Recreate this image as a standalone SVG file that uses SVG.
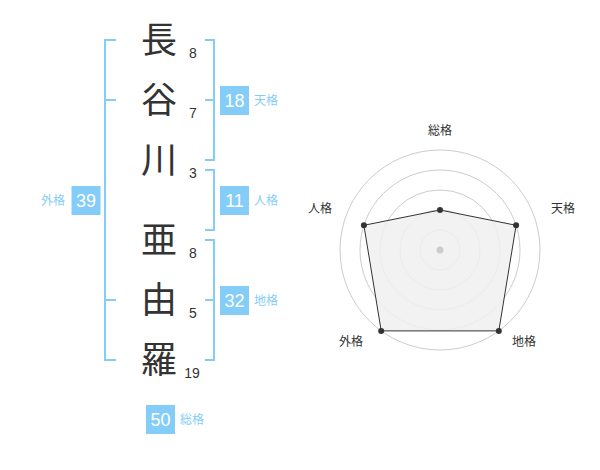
<svg xmlns="http://www.w3.org/2000/svg" width="600" height="470" viewBox="0 0 600 470">
<style>
.ch{font-family:"Noto Sans CJK JP","Noto Sans CJK SC",sans-serif;font-size:36px;fill:#333;text-anchor:middle}
.st{font-family:"Liberation Sans",Arial,sans-serif;font-size:14px;fill:#333;text-anchor:middle}
.br{fill:none;stroke:#85cdf9;stroke-width:2}
.box{fill:#85cdf9}
.bn{font-family:"Liberation Sans",Arial,sans-serif;font-size:18px;fill:#fff;text-anchor:middle}
.bl{font-family:"Noto Sans CJK JP","Noto Sans CJK SC",sans-serif;font-size:12px;fill:#85cdf9}
.rl{font-family:"Noto Sans CJK JP","Noto Sans CJK SC",sans-serif;font-size:12px;fill:#333;text-anchor:middle}
.ring{fill:none;stroke:#cccccc;stroke-width:1}
.pt{fill:#333}
</style>
<rect width="600" height="470" fill="#fff"/>
<g id="chars">
<text class="ch" x="159" y="53">長</text><text class="st" x="193" y="58">8</text>
<text class="ch" x="159" y="113">谷</text><text class="st" x="193" y="118">7</text>
<text class="ch" x="159" y="173">川</text><text class="st" x="193" y="178">3</text>
<text class="ch" x="159" y="253">亜</text><text class="st" x="193" y="258">8</text>
<text class="ch" x="159" y="313">由</text><text class="st" x="193" y="318">5</text>
<text class="ch" x="159" y="373">羅</text><text class="st" x="192" y="378">19</text>
</g>
<g id="brackets">
<path class="br" d="M116,40H105V360H116M105,100H116M105,300H116"/>
<path class="br" d="M205,40H214V160H205M214,100H205"/>
<path class="br" d="M205,170H214V230H205"/>
<path class="br" d="M205,240H214V360H205M214,300H205"/>
</g>
<g id="tenkaku"><rect class="box" x="220" y="86" width="29" height="29"/><text class="bn" x="234.5" y="107">18</text><text class="bl" x="254" y="105">天格</text></g>
<g id="jinkaku"><rect class="box" x="220" y="186" width="29" height="29"/><text class="bn" x="234.5" y="207">11</text><text class="bl" x="254" y="205">人格</text></g>
<g id="chikaku"><rect class="box" x="220" y="286" width="29" height="29"/><text class="bn" x="234.5" y="307">32</text><text class="bl" x="254" y="305">地格</text></g>
<g id="gaikaku"><rect class="box" x="71.5" y="186" width="29" height="29"/><text class="bn" x="86" y="207">39</text><text class="bl" x="41" y="205">外格</text></g>
<g id="soukaku"><rect class="box" x="146" y="405" width="29" height="29"/><text class="bn" x="160.5" y="426">50</text><text class="bl" x="180" y="424">総格</text></g>
<g id="radar">
<circle class="ring" cx="440" cy="250" r="20"/>
<circle class="ring" cx="440" cy="250" r="40"/>
<circle class="ring" cx="440" cy="250" r="60"/>
<circle class="ring" cx="440" cy="250" r="80"/>
<circle class="ring" cx="440" cy="250" r="100"/>
<polygon points="440,210 516.1,225.3 498.8,330.9 381.2,330.9 363.9,225.3" fill="#f0f0f0" fill-opacity="0.85" stroke="#333" stroke-width="1"/>
<circle cx="440" cy="250" r="3.5" fill="#ccc"/>
<circle class="pt" cx="440" cy="210" r="3"/>
<circle class="pt" cx="516.1" cy="225.3" r="3"/>
<circle class="pt" cx="498.8" cy="330.9" r="3"/>
<circle class="pt" cx="381.2" cy="330.9" r="3"/>
<circle class="pt" cx="363.9" cy="225.3" r="3"/>
<text class="rl" x="440" y="135">総格</text>
<text class="rl" x="563" y="213">天格</text>
<text class="rl" x="320" y="213">人格</text>
<text class="rl" x="351" y="346">外格</text>
<text class="rl" x="524" y="346">地格</text>
</g>
</svg>
